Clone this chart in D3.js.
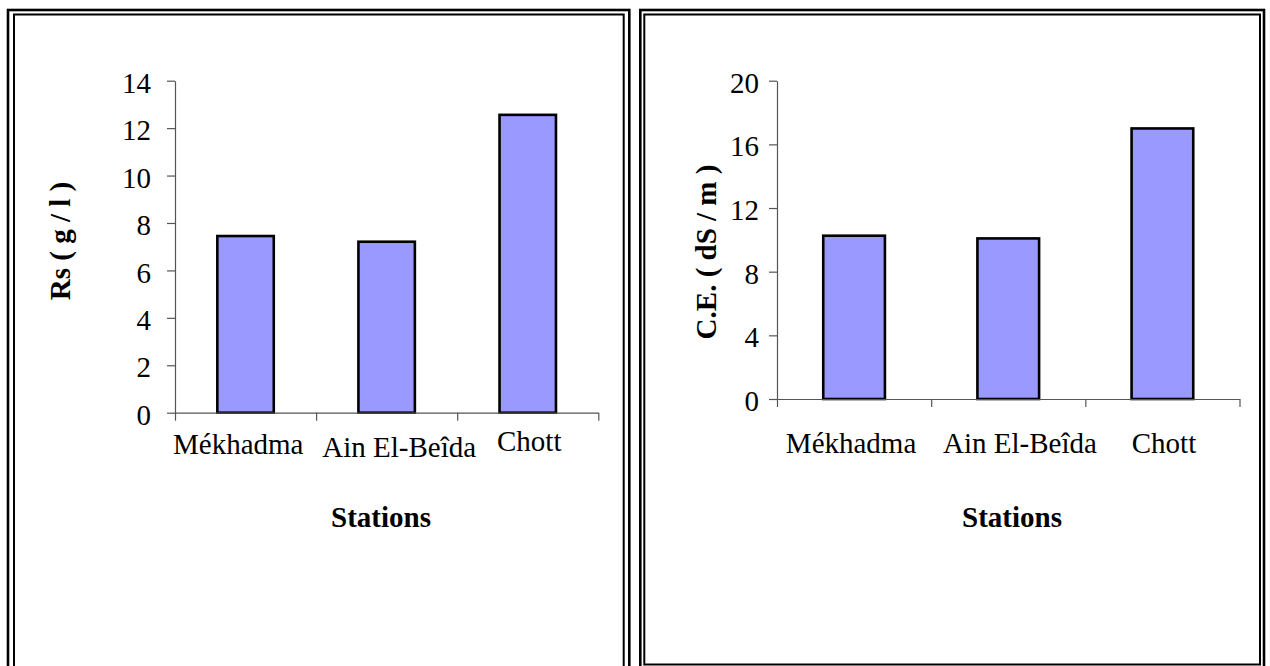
<!DOCTYPE html>
<html>
<head>
<meta charset="utf-8">
<script src="https://cdn.jsdelivr.net/npm/d3@7"></script>
<style>
  html, body { margin: 0; padding: 0; background: #fff; }
  svg { display: block; }
  text { font-family: "Liberation Serif", "Times New Roman", serif; fill: #000; }
</style>
</head>
<body>
<svg id="chart" width="1270" height="666"></svg>
<script>
// ---- data ----
const categories = ["Mékhadma", "Ain El-Beîda", "Chott"];
const rsValues = [7.45, 7.21, 12.56];     // Rs (g/l)
const ceValues = [10.26, 10.09, 17.0];    // C.E. (dS/m)
const rsTicks = [0, 2, 4, 6, 8, 10, 12, 14];
const ceTicks = [0, 4, 8, 12, 16, 20];
const rsTitle = "Rs ( g / l )";
const ceTitle = "C.E. ( dS / m )";
const xTitle = "Stations";

// ---- layout ----
const svg = d3.select("#chart");

// frames (double border)
const frames = svg.append("g").attr("fill", "none");
frames.append("rect").attr("x", 8).attr("y", 10).attr("width", 621.3).attr("height", 720)
  .attr("stroke", "#000").attr("stroke-width", 2.6);
frames.append("rect").attr("x", 14).attr("y", 14.5).attr("width", 609.7).attr("height", 720)
  .attr("stroke", "#000").attr("stroke-width", 2);
frames.append("rect").attr("x", 640.3).attr("y", 10).attr("width", 623.7).attr("height", 720)
  .attr("stroke", "#000").attr("stroke-width", 2.6);
frames.append("rect").attr("x", 644.3).attr("y", 14.5).attr("width", 615.7).attr("height", 650)
  .attr("stroke", "#000").attr("stroke-width", 2);

const panels = [
  { values: rsValues, ticks: rsTicks, max: 14, title: rsTitle,
    x0: 175, x1: 598.3, yTop: 80.7, yBot: 412.7, tickPad: 16,
    labelDx: [-7.3, 12.5, 1.5], labelY: [454.3, 456.7, 450.7],
    titleX: 70, titleY: 241, statX: 381 },
  { values: ceValues, ticks: ceTicks, max: 20, title: ceTitle,
    x0: 777, x1: 1239.5, yTop: 80.7, yBot: 399, tickPad: 10,
    labelDx: [-3, 11.7, 1.6], labelY: [453, 453, 453],
    titleX: 716, titleY: 252, statX: 1012 }
];

panels.forEach(p => {
  const g = svg.append("g");
  const x = d3.scaleBand().domain(categories).range([p.x0, p.x1]).padding(0);
  const xIdx = d3.scaleLinear().domain([0, categories.length]).range([p.x0, p.x1]);
  const y = d3.scaleLinear().domain([0, p.max]).range([p.yBot, p.yTop]);

  // bars
  g.append("g").selectAll("rect").data(p.values).join("rect")
    .attr("x", (d, i) => x(categories[i]) + x.bandwidth() * 0.3)
    .attr("width", x.bandwidth() * 0.4)
    .attr("y", d => y(d))
    .attr("height", d => y(0) - y(d))
    .attr("fill", "#9999FF")
    .attr("stroke", "#000")
    .attr("stroke-width", 2.6);

  // y axis
  const ya = g.append("g").attr("transform", `translate(${p.x0},0)`)
    .call(d3.axisLeft(y).tickValues(p.ticks).tickFormat(d3.format("d"))
      .tickSize(8).tickSizeOuter(0).tickPadding(p.tickPad));
  ya.select(".domain").attr("stroke", "#555").attr("stroke-width", 1.2);
  ya.selectAll(".tick line").attr("stroke", "#555").attr("stroke-width", 1.2);
  ya.selectAll(".tick text").attr("font-family", "Liberation Serif")
    .attr("font-size", 29).attr("fill", "#000").attr("dy", "0.4em");

  // x axis (ticks between categories)
  const xa = g.append("g").attr("transform", `translate(0,${p.yBot})`)
    .call(d3.axisBottom(xIdx).tickValues(d3.range(categories.length + 1))
      .tickFormat("").tickSize(8).tickSizeOuter(0));
  xa.select(".domain").attr("stroke", "#555").attr("stroke-width", 1.2);
  xa.selectAll(".tick line").attr("stroke", "#555").attr("stroke-width", 1.2);

  // category labels
  g.append("g").selectAll("text").data(categories).join("text")
    .attr("x", (d, i) => x(d) + x.bandwidth() / 2 + p.labelDx[i])
    .attr("y", (d, i) => p.labelY[i])
    .attr("text-anchor", "middle")
    .attr("font-size", 29)
    .text(d => d);

  // y title
  g.append("text")
    .attr("transform", `translate(${p.titleX},${p.titleY}) rotate(-90)`)
    .attr("text-anchor", "middle")
    .attr("font-size", 29)
    .attr("font-weight", "bold")
    .text(p.title);

  // x title
  g.append("text")
    .attr("x", p.statX).attr("y", 527)
    .attr("text-anchor", "middle")
    .attr("font-size", 29)
    .attr("font-weight", "bold")
    .text(xTitle);
});
</script>
</body>
</html>
